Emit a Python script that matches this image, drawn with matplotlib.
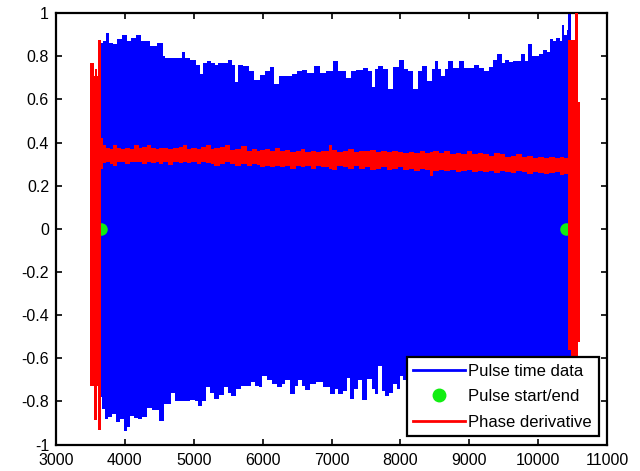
import numpy as np
import matplotlib
matplotlib.use("Agg")
import matplotlib.pyplot as plt
from matplotlib.lines import Line2D

plt.rcParams['font.family'] = ['Liberation Sans', 'DejaVu Sans']
plt.rcParams['axes.unicode_minus'] = False

# pulse time data, upper envelope
top_x = [3660, 3700, 3750, 3800, 3850, 3930, 4000, 4060, 4120, 4210, 4260, 4316,
         4412, 4534, 4570, 4606, 4700, 4800, 4848, 4900, 4993, 5060, 5115, 5160,
         5210, 5280, 5333, 5380, 5460, 5535, 5580, 5622, 5670, 5768, 5840, 5913,
         6009, 6070, 6131, 6203, 6276, 6340, 6396, 6470, 6541, 6610, 6686, 6792,
         6879, 6970, 7073, 7120, 7170, 7240, 7315, 7400, 7508, 7560, 7605, 7650,
         7702, 7780, 7847, 7930, 8017, 8090, 8138, 8225, 8283, 8356, 8428, 8480,
         8525, 8570, 8622, 8670, 8718, 8800, 8888, 8960, 9030, 9106, 9180, 9251,
         9310, 9371, 9444, 9500, 9541, 9600, 9662, 9720, 9782, 9830, 9879, 9930,
         9976, 10040, 10097, 10150, 10194, 10240, 10290, 10330, 10363, 10400,
         10430, 10450, 10470]
top_y = [0.86, 0.87, 0.91, 0.86, 0.855, 0.88, 0.90, 0.87, 0.885, 0.90, 0.87, 0.87,
         0.85, 0.86, 0.80, 0.79, 0.79, 0.79, 0.82, 0.79, 0.785, 0.76, 0.72, 0.77,
         0.78, 0.77, 0.76, 0.77, 0.77, 0.785, 0.76, 0.68, 0.76, 0.755, 0.73, 0.69,
         0.715, 0.73, 0.75, 0.67, 0.71, 0.71, 0.71, 0.72, 0.73, 0.735, 0.725, 0.755,
         0.725, 0.73, 0.78, 0.73, 0.73, 0.70, 0.73, 0.735, 0.745, 0.73, 0.66, 0.74,
         0.755, 0.74, 0.65, 0.75, 0.785, 0.74, 0.73, 0.65, 0.73, 0.755, 0.685, 0.74,
         0.78, 0.74, 0.71, 0.74, 0.78, 0.745, 0.78, 0.745, 0.745, 0.76, 0.745, 0.73,
         0.75, 0.785, 0.81, 0.77, 0.785, 0.775, 0.78, 0.78, 0.81, 0.78, 0.855, 0.80,
         0.80, 0.81, 0.83, 0.82, 0.88, 0.87, 0.885, 0.87, 0.945, 0.90,
         0.92, 1.0, 1.0]

# pulse time data, lower envelope
bot_x = [3653, 3680, 3735, 3780, 3832, 3905, 3960, 4001, 4050, 4098, 4160, 4219,
         4290, 4364, 4410, 4461, 4534, 4606, 4650, 4703, 4750, 4800, 4900, 4993,
         5040, 5090, 5150, 5210, 5270, 5332, 5400, 5477, 5520, 5574, 5640, 5719,
         5790, 5864, 5920, 5961, 6033, 6106, 6180, 6251, 6300, 6348, 6444, 6490,
         6541, 6590, 6638, 6730, 6832, 6928, 7025, 7070, 7122, 7200, 7243, 7291,
         7350, 7412, 7485, 7557, 7610, 7654, 7702, 7750, 7799, 7860, 7920, 7970,
         8017, 8065, 8200, 8400, 8600, 8800, 9000, 9200, 9400, 9600, 9800, 10000,
         10200, 10400, 10470]
bot_y = [-0.78, -0.835, -0.88, -0.87, -0.86, -0.895, -0.88, -0.935, -0.92, -0.865, -0.875, -0.88,
         -0.87, -0.83, -0.84, -0.84, -0.89, -0.81, -0.81, -0.76, -0.80, -0.80, -0.80, -0.795,
         -0.80, -0.82, -0.80, -0.735, -0.76, -0.79, -0.77, -0.735, -0.76, -0.775, -0.74, -0.727,
         -0.73, -0.71, -0.73, -0.735, -0.68, -0.70, -0.72, -0.735, -0.72, -0.70, -0.765, -0.73,
         -0.70, -0.73, -0.745, -0.72, -0.71, -0.735, -0.765, -0.74, -0.765, -0.75, -0.69, -0.79,
         -0.74, -0.70, -0.795, -0.695, -0.74, -0.765, -0.635, -0.75, -0.775, -0.76, -0.72, -0.74,
         -0.68, -0.70, -0.72, -0.73, -0.74, -0.76, -0.75, -0.76, -0.78, -0.79, -0.80, -0.82,
         -0.85, -0.88, -0.90]

# phase derivative: x, upper and lower extent
ph_x = [3500, 3551, 3570, 3590, 3610, 3650, 3680, 3720, 3780, 3832, 3880, 3950,
        4000, 4074, 4130, 4200, 4250, 4316, 4380, 4450, 4500, 4557, 4620, 4700,
        4780, 4840, 4900, 4960, 5042, 5100, 5180, 5250, 5300, 5380, 5450, 5525,
        5600, 5680, 5768, 5850, 5920, 5961, 6030, 6100, 6180, 6250, 6330, 6400,
        6480, 6550, 6620, 6700, 6780, 6850, 6962, 7000, 7080, 7160, 7240, 7320,
        7400, 7480, 7560, 7640, 7720, 7800, 7880, 7960, 8040, 8120, 8200, 8280,
        8350, 8428, 8480, 8560, 8640, 8720, 8800, 8880, 8960, 9040, 9120, 9200,
        9280, 9360, 9440, 9520, 9600, 9680, 9760, 9840, 9920, 10000, 10080, 10160,
        10240, 10320, 10380, 10440, 10484, 10533, 10572, 10605]
ph_hi = [0.77, 0.71, 0.74, 0.71, 0.876, 0.42, 0.39, 0.375, 0.37, 0.39, 0.375, 0.37,
         0.375, 0.37, 0.39, 0.375, 0.38, 0.39, 0.375, 0.37, 0.375, 0.375, 0.37, 0.375,
         0.38, 0.39, 0.37, 0.375, 0.37, 0.38, 0.39, 0.37, 0.375, 0.38, 0.39, 0.365,
         0.37, 0.385, 0.36, 0.37, 0.36, 0.365, 0.37, 0.36, 0.375, 0.36, 0.365, 0.355,
         0.36, 0.37, 0.355, 0.36, 0.355, 0.36, 0.39, 0.365, 0.355, 0.36, 0.37, 0.355,
         0.36, 0.36, 0.365, 0.355, 0.36, 0.355, 0.36, 0.355, 0.35, 0.355, 0.35, 0.36,
         0.35, 0.355, 0.36, 0.35, 0.36, 0.345, 0.35, 0.345, 0.36, 0.345, 0.35, 0.345,
         0.34, 0.35, 0.345, 0.335, 0.34, 0.345, 0.335, 0.34, 0.33, 0.335, 0.33, 0.335,
         0.33, 0.335, 0.33, 0.876, 0.876, 1.05, 0.59, 0.59]
ph_lo = [-0.73, -0.886, -0.886, -0.73, -0.93, 0.28, 0.305, 0.31, 0.30, 0.29, 0.31, 0.31,
         0.30, 0.31, 0.31, 0.31, 0.30, 0.31, 0.305, 0.31, 0.30, 0.31, 0.295, 0.31,
         0.305, 0.31, 0.305, 0.31, 0.30, 0.31, 0.305, 0.30, 0.29, 0.30, 0.31, 0.30,
         0.29, 0.30, 0.29, 0.30, 0.295, 0.285, 0.29, 0.285, 0.29, 0.285, 0.29, 0.28,
         0.29, 0.285, 0.29, 0.28, 0.29, 0.285, 0.28, 0.275, 0.29, 0.285, 0.28, 0.29,
         0.28, 0.285, 0.275, 0.28, 0.285, 0.275, 0.28, 0.285, 0.275, 0.28, 0.27, 0.28,
         0.275, 0.245, 0.27, 0.275, 0.27, 0.275, 0.265, 0.27, 0.275, 0.265, 0.27, 0.265,
         0.27, 0.26, 0.27, 0.265, 0.26, 0.27, 0.265, 0.255, 0.265, 0.26, 0.255, 0.26,
         0.265, 0.25, 0.255, -0.563, -0.75, -0.75, -0.524, -0.524]

# pulse start / end markers
edge_x = [3655, 10410]
edge_y = [0, 0]

xticks = [3000, 4000, 5000, 6000, 7000, 8000, 9000, 10000, 11000]
yticks = [-1, -0.8, -0.6, -0.4, -0.2, 0, 0.2, 0.4, 0.6, 0.8, 1]
ytick_labels = ['-1', '-0.8', '-0.6', '-0.4', '-0.2', '0', '0.2', '0.4', '0.6', '0.8', '1']

fig = plt.figure(figsize=(6.4, 4.71), dpi=100)
ax = fig.add_axes([0.0875, 0.056, 0.861, 0.916])

ax.fill_between(top_x, 0, top_y, step='mid', color='#0000ff', lw=0, zorder=1)
ax.fill_between(bot_x, bot_y, 0, step='mid', color='#0000ff', lw=0, zorder=1)
ax.plot(edge_x, edge_y, 'o', color='#11ee11', markersize=8, zorder=2)
ax.fill_between(ph_x, ph_lo, ph_hi, step='post', color='#ff0000', lw=0, zorder=3)

ax.set_xlim(3000, 11000)
ax.set_ylim(-1, 1)
ax.set_xticks(xticks)
ax.set_xticklabels([str(t) for t in xticks])
ax.set_yticks(yticks)
ax.set_yticklabels(ytick_labels)
ax.tick_params(direction='in', top=True, right=True, length=4, width=1.2,
               labelsize=11.5)
ax.tick_params(axis='x', pad=6)
ax.tick_params(axis='y', pad=5)
for s in ax.spines.values():
    s.set_linewidth(1.6)

handles = [
    Line2D([], [], color='#0000ff', lw=2),
    Line2D([], [], ls='none', marker='o', color='#11ee11', markersize=9),
    Line2D([], [], color='#ff0000', lw=2),
]
labels = ['Pulse time data', 'Pulse start/end', 'Phase derivative']
leg = ax.legend(handles, labels, loc='lower right', fontsize=12, fancybox=False,
                framealpha=1, edgecolor='black', handlelength=3.1, handletextpad=0.2,
                labelspacing=0.62, borderpad=0.4, borderaxespad=0.5)
leg.get_frame().set_linewidth(1.6)

fig.savefig('out.png', dpi=100)
